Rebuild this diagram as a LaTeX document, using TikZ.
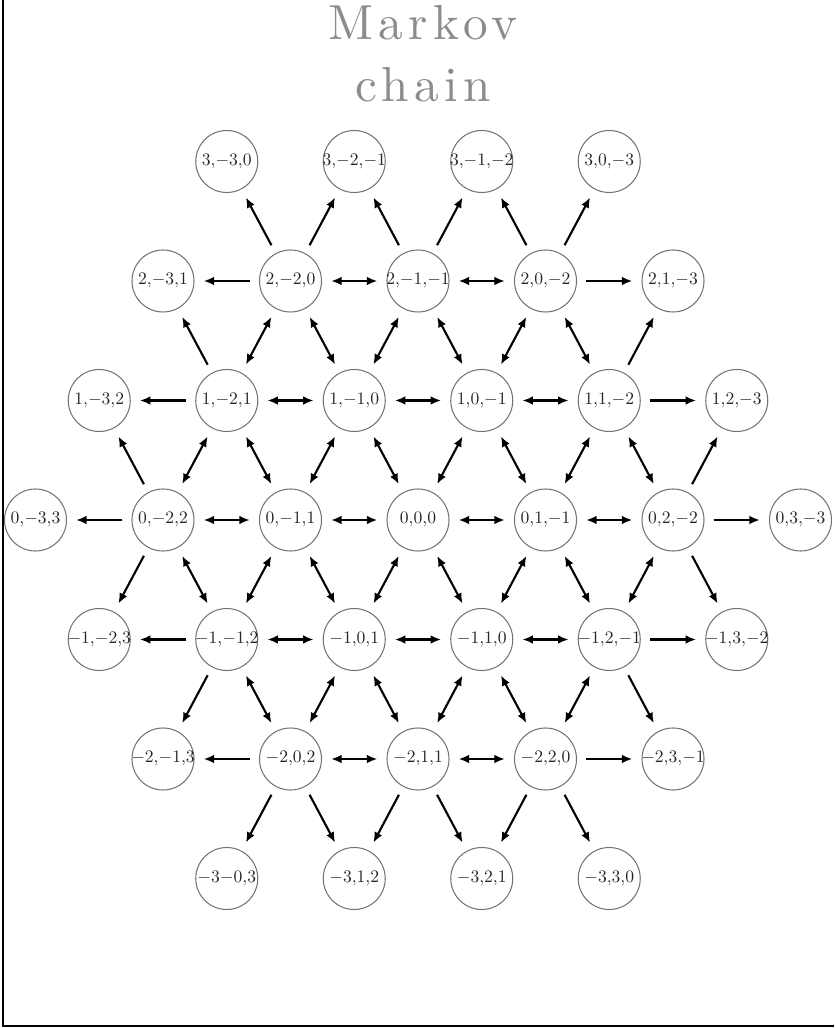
\documentclass[tikz,border=0pt]{standalone}
\usepackage{fontspec}
\usetikzlibrary{arrows.meta}

\newfontfamily\titlefont{lmroman10-regular}[Extension=.otf,LetterSpace=11]
% plain commas and minus signs in the state labels
\mathcode`\,="013B
\mathcode`\-="0200
\newcommand{\lbl}[1]{\makebox[0pt]{$#1$}}

\begin{document}
\begin{tikzpicture}[x=1.275cm,y=2.39cm,
  >={Latex[length=2.1mm,width=1.7mm]},
  state/.style={circle,draw=black!55,line width=.6pt,minimum size=1.24cm,inner sep=0pt,text=black!85},
  trans/.style={line width=1.2pt,shorten >=1.8mm,shorten <=1.8mm},
  title/.style={anchor=base,text=black!45,font=\titlefont\fontsize{28}{33}\selectfont}]

\useasboundingbox (-8.36cm,-10.16cm) rectangle (8.32cm,10.4cm);
\draw[line width=1.1pt] (-8.30cm,10.4cm) -- (-8.30cm,-10.12cm) -- (8.32cm,-10.12cm);

\node[title] (t1) at (0.1cm,9.6cm) {Markov};
\node[title] (t2) at (0.1cm,8.36cm) {chain};

\node[state] (A1) at (-3,3) {\lbl{3,-3,0}};
\node[state] (A2) at (-1,3) {\lbl{3,-2,-1}};
\node[state] (A3) at (1,3) {\lbl{3,-1,-2}};
\node[state] (A4) at (3,3) {\lbl{3,0,-3}};

\node[state] (B1) at (-4,2) {\lbl{2,-3,1}};
\node[state] (B2) at (-2,2) {\lbl{2,-2,0}};
\node[state] (B3) at (0,2) {\lbl{2,-1,-1}};
\node[state] (B4) at (2,2) {\lbl{2,0,-2}};
\node[state] (B5) at (4,2) {\lbl{2,1,-3}};

\node[state] (C1) at (-5,1) {\lbl{1,-3,2}};
\node[state] (C2) at (-3,1) {\lbl{1,-2,1}};
\node[state] (C3) at (-1,1) {\lbl{1,-1,0}};
\node[state] (C4) at (1,1) {\lbl{1,0,-1}};
\node[state] (C5) at (3,1) {\lbl{1,1,-2}};
\node[state] (C6) at (5,1) {\lbl{1,2,-3}};

\node[state] (D1) at (-6,0) {\lbl{0,-3,3}};
\node[state] (D2) at (-4,0) {\lbl{0,-2,2}};
\node[state] (D3) at (-2,0) {\lbl{0,-1,1}};
\node[state] (D4) at (0,0) {\lbl{0,0,0}};
\node[state] (D5) at (2,0) {\lbl{0,1,-1}};
\node[state] (D6) at (4,0) {\lbl{0,2,-2}};
\node[state] (D7) at (6,0) {\lbl{0,3,-3}};

\node[state] (E1) at (-5,-1) {\lbl{-1,-2,3}};
\node[state] (E2) at (-3,-1) {\lbl{-1,-1,2}};
\node[state] (E3) at (-1,-1) {\lbl{-1,0,1}};
\node[state] (E4) at (1,-1) {\lbl{-1,1,0}};
\node[state] (E5) at (3,-1) {\lbl{-1,2,-1}};
\node[state] (E6) at (5,-1) {\lbl{-1,3,-2}};

\node[state] (F1) at (-4,-2) {\lbl{-2,-1,3}};
\node[state] (F2) at (-2,-2) {\lbl{-2,0,2}};
\node[state] (F3) at (0,-2) {\lbl{-2,1,1}};
\node[state] (F4) at (2,-2) {\lbl{-2,2,0}};
\node[state] (F5) at (4,-2) {\lbl{-2,3,-1}};

\node[state] (G1) at (-3,-3) {\lbl{-3-0,3}};
\node[state] (G2) at (-1,-3) {\lbl{-3,1,2}};
\node[state] (G3) at (1,-3) {\lbl{-3,2,1}};
\node[state] (G4) at (3,-3) {\lbl{-3,3,0}};

% both ways between inner states
\foreach \u/\v in {B2/B3,B3/B4,C2/C3,C3/C4,C4/C5,D2/D3,D3/D4,D4/D5,D5/D6,
    E2/E3,E3/E4,E4/E5,F2/F3,F3/F4,
    B2/C2,B2/C3,B3/C3,B3/C4,B4/C4,B4/C5,
    C2/D2,C2/D3,C3/D3,C3/D4,C4/D4,C4/D5,C5/D5,C5/D6,
    D2/E2,D3/E2,D3/E3,D4/E3,D4/E4,D5/E4,D5/E5,D6/E5,
    E2/F2,E3/F2,E3/F3,E4/F3,E4/F4,E5/F4}
  \draw[trans,<->] (\u) -- (\v);

% one way out to the rim
\foreach \u/\v in {B2/A1,B2/A2,B3/A2,B3/A3,B4/A3,B4/A4,
    B2/B1,C2/B1,B4/B5,C5/B5,C2/C1,D2/C1,C5/C6,D6/C6,D2/D1,D6/D7,
    E2/E1,D2/E1,E5/E6,D6/E6,F2/F1,E2/F1,F4/F5,E5/F5,
    F2/G1,F2/G2,F3/G2,F3/G3,F4/G3,F4/G4}
  \draw[trans,->] (\u) -- (\v);

\end{tikzpicture}
\end{document}
